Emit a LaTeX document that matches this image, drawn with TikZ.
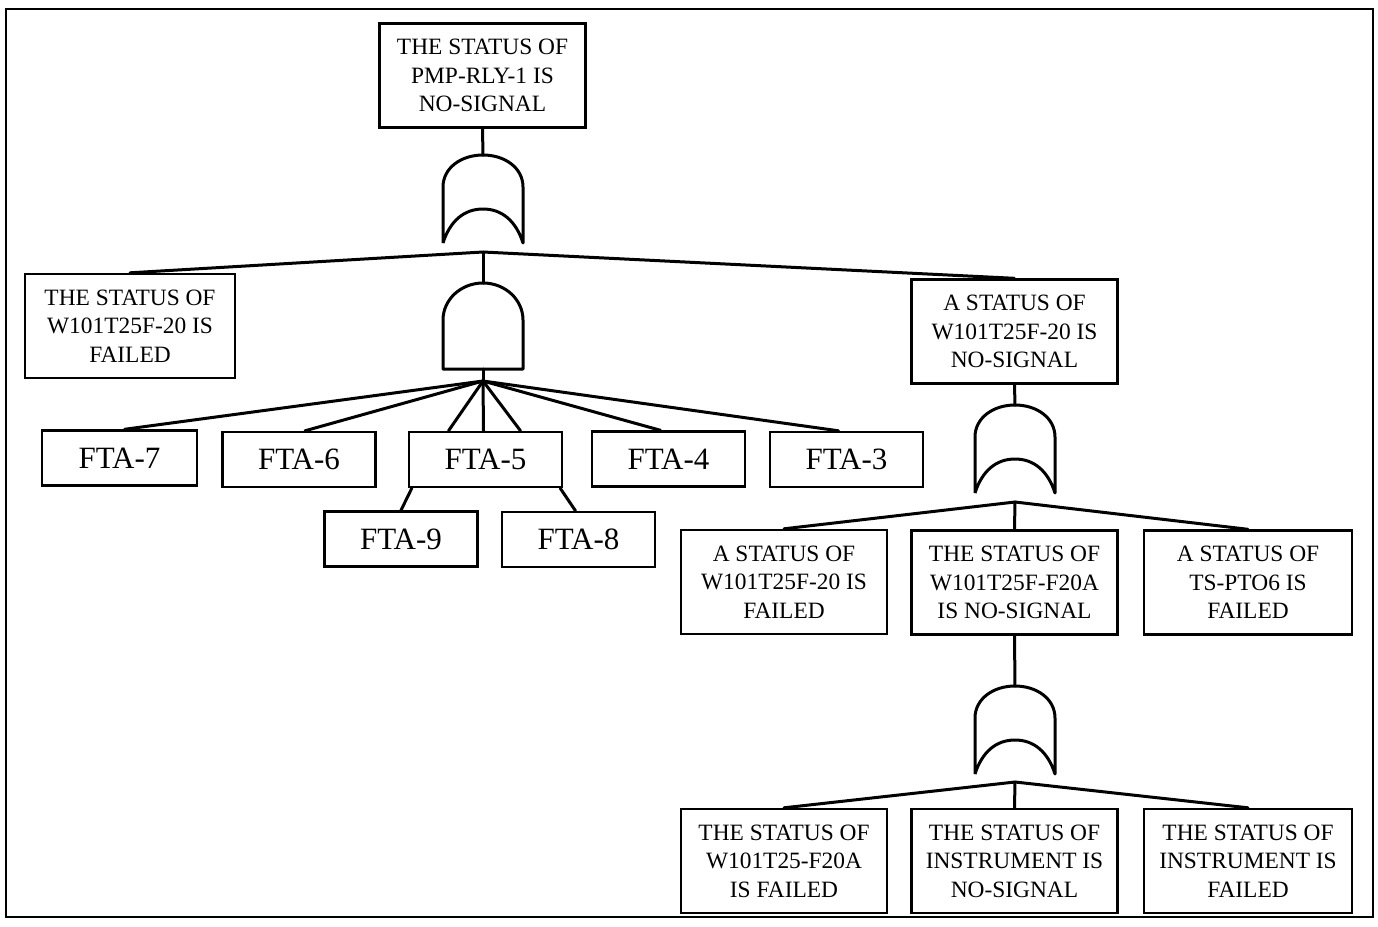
\documentclass[tikz,border=0pt]{standalone}
\usepackage{fontspec}
\setmainfont{Liberation Serif}
\usetikzlibrary{calc}

\newcommand{\evtfont}{\fontsize{11.7}{14.25}\selectfont}
\newcommand{\ftafont}{\fontsize{15.5}{18}\selectfont}

\tikzset{
  evtbox/.style={draw, line width=1.2pt, align=center, inner sep=0pt,
    minimum width=103pt, minimum height=52pt, font=\evtfont},
  ftabox/.style={draw, line width=1.2pt, align=center, inner sep=0pt,
    minimum width=76.5pt, minimum height=27.5pt, font=\ftafont},
  link/.style={line width=1.5pt, line cap=round},
  gateline/.style={line width=1.5pt, line join=round},
  orgate/.pic={
    \draw[gateline] (-40,88) -- (-40,32)
      .. controls (-40,13) and (-22,0) .. (0,0)
      .. controls (22,0) and (40,13) .. (40,32) -- (40,88)
      .. controls (33,66) and (19,54) .. (0,54)
      .. controls (-19,54) and (-33,66) .. (-40,88);
    \coordinate (-in) at (0,0);
  },
  andgate/.pic={
    \draw[gateline] (-40,86) -- (-40,37)
      .. controls (-40,16.6) and (-22.1,0) .. (0,0)
      .. controls (22.1,0) and (40,16.6) .. (40,37) -- (40,86) -- cycle;
    \coordinate (-in) at (0,0);
    \coordinate (-out) at (0,86);
  }
}

\begin{document}
\begin{tikzpicture}[x=0.5pt, y=-0.5pt]
  \useasboundingbox (0,0) rectangle (1378,927);
  % outer frame
  \draw[line width=1pt] (6,9) rectangle (1373,917);

  % events
  \node[evtbox] (top) at (482.5,75.5) {THE STATUS OF\\PMP-RLY-1 IS\\NO-SIGNAL};
  \node[evtbox, minimum width=105pt] (lbox) at (130,326) {THE STATUS OF\\W101T25F-20 IS\\FAILED};
  \node[evtbox] (rbox) at (1014.5,331.5) {A STATUS OF\\W101T25F-20 IS\\NO-SIGNAL};

  \node[ftabox, minimum width=77.5pt] (f7) at (119.5,458) {FTA-7};
  \node[ftabox] (f6) at (299,459.5) {FTA-6};
  \node[ftabox] (f5) at (485.5,459.5) {FTA-5};
  \node[ftabox] (f4) at (668.5,459) {FTA-4};
  \node[ftabox] (f3) at (846.5,459.5) {FTA-3};
  \node[ftabox] (f9) at (401,539) {FTA-9};
  \node[ftabox] (f8) at (578.5,539.5) {FTA-8};

  \node[evtbox] (m1) at (784,582) {A STATUS OF\\W101T25F-20 IS\\FAILED};
  \node[evtbox] (m2) at (1014.5,582.5) {THE STATUS OF\\W101T25F-F20A\\IS NO-SIGNAL};
  \node[evtbox, minimum width=104pt] (m3) at (1248,582.5) {A STATUS OF\\TS-PTO6 IS\\FAILED};

  \node[evtbox] (b1) at (784,861) {THE STATUS OF\\W101T25-F20A\\IS FAILED};
  \node[evtbox] (b2) at (1014.5,861) {THE STATUS OF\\INSTRUMENT IS\\NO-SIGNAL};
  \node[evtbox, minimum width=104pt] (b3) at (1248,861) {THE STATUS OF\\INSTRUMENT IS\\FAILED};

  % gates
  \pic (g1) at (483,155) {orgate};
  \pic (g2) at (483,283) {andgate};
  \pic (g3) at (1015,405) {orgate};
  \pic (g4) at (1015,686) {orgate};

  % junction points under the gates
  \coordinate (j1) at (483,252);
  \coordinate (j2) at (483,381);
  \coordinate (j3) at (1015,502);
  \coordinate (j4) at (1015,782);

  % connectors
  \draw[link] (top.south) -- (g1-in);
  \draw[link] (lbox.north) -- (j1) -- (rbox.north);
  \draw[link] (j1) -- (g2-in);

  \draw[link] (g2-out) -- (j2);
  \draw[link] (j2) -- ($(f7.north)+(5,0)$);
  \draw[link] (j2) -- ($(f6.north)+(6,0)$);
  \draw[link] (j2) -- ($(f5.north)+(-37,0)$);
  \draw[link] (j2) -- ($(f5.north)+(-2,0)$);
  \draw[link] (j2) -- ($(f5.north)+(35,0)$);
  \draw[link] (j2) -- ($(f4.north)+(-8,0)$);
  \draw[link] (j2) -- ($(f3.north)+(-8,0)$);
  \draw[link] ($(f5.south west)+(4,0)$) -- (f9.north);
  \draw[link] ($(f5.south east)+(-3,0)$) -- ($(f8.north)+(-3,0)$);

  \draw[link] (rbox.south) -- (g3-in);
  \draw[link] (m1.north) -- (j3) -- (m3.north);
  \draw[link] (j3) -- (m2.north);

  \draw[link] (m2.south) -- (g4-in);
  \draw[link] (b1.north) -- (j4) -- (b3.north);
  \draw[link] (j4) -- (b2.north);
\end{tikzpicture}
\end{document}
